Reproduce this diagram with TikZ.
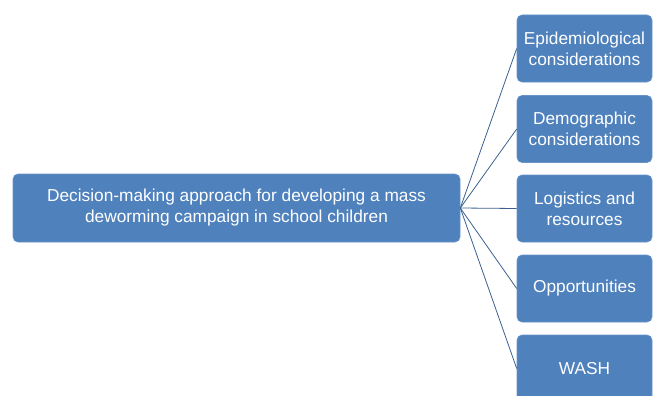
\documentclass[tikz,border=0pt]{standalone}
\usepackage{fontspec}
\setmainfont{Liberation Sans}
\definecolor{DWblue}{RGB}{79,129,189}
\definecolor{DWedge}{RGB}{104,148,200}
\definecolor{DWline}{RGB}{60,96,142}
\tikzstyle{DWbox}=[fill=DWblue, draw=DWedge, line width=0.6pt, rounded corners=5pt, text=white, align=center, font=\fontsize{17.3}{21}\selectfont, inner sep=0pt]
\tikzstyle{DWlink}=[draw=DWline, line width=0.8pt]

\begin{document}
\begin{tikzpicture}[x=1pt, y=-1pt]
                \path [use as bounding box] (0,0) rectangle (653,396);
                \clip (0,0) rectangle (653,396);
                \node [DWbox, minimum width=447pt, minimum height=68pt] (approach) at (236.5,208)
                    {Decision-making approach for developing a mass\\deworming campaign in school children};
                \foreach \y/\name/\txt in {48.5/epi/Epidemiological\\considerations,
                                           129/demo/Demographic\\considerations,
                                           208.5/logi/Logistics and\\resources,
                                           288.5/opp/Opportunities,
                                           368.5/wash/WASH} {
                    \node [DWbox, minimum width=135pt, minimum height=67pt] (\name) at (584.5,\y) {\txt};
                    \draw [DWlink] (approach.east) -- (\name.west);
                }
            \end{tikzpicture}
\end{document}
